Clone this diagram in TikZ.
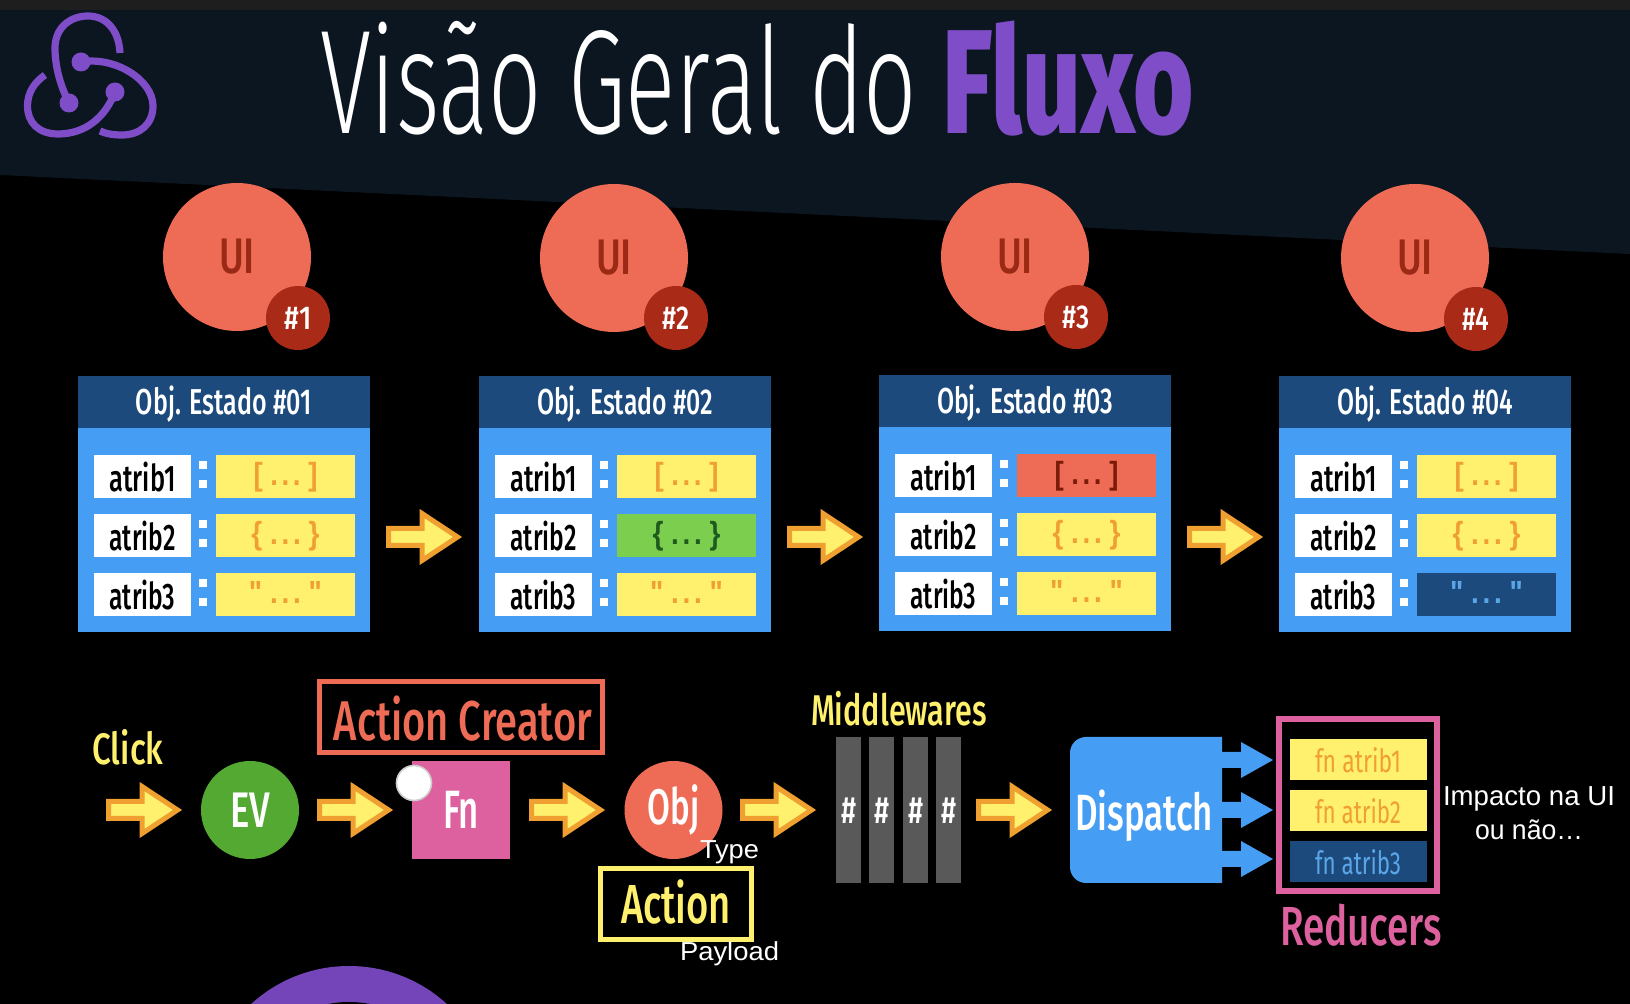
\documentclass[tikz,border=0pt]{standalone}
\usepackage{fontspec}
\usepackage{graphicx}
\setmainfont{Liberation Sans}
\newfontfamily\condf{Fira Sans Light}
\newfontfamily\condb{Fira Sans Medium}
\newfontfamily\condh{Fira Sans}
\newfontfamily\condx{Fira Sans ExtraBold}
\newfontfamily\helv{Liberation Sans}
\definecolor{band}{HTML}{0B1620}
\definecolor{topstrip}{HTML}{1E1E1E}
\definecolor{purp}{HTML}{7F4DC8}
\definecolor{ringp}{HTML}{7445B8}
\definecolor{salmon}{HTML}{EE6C55}
\definecolor{brick}{HTML}{A92B17}
\definecolor{uitext}{HTML}{9A2A15}
\definecolor{navy}{HTML}{1D4A7C}
\definecolor{sky}{HTML}{459DF4}
\definecolor{yel}{HTML}{FFF16E}
\definecolor{org}{HTML}{F0A030}
\definecolor{grn}{HTML}{7CCF4E}
\definecolor{dgrn}{HTML}{1F5A1E}
\definecolor{dred}{HTML}{7A1A08}
\definecolor{evg}{HTML}{54A932}
\definecolor{pink}{HTML}{DD619F}
\definecolor{barg}{HTML}{595959}
\definecolor{lightb}{HTML}{5BA6E8}
% font size in px
\newcommand{\fs}[1]{\fontsize{\fpeval{#1*0.5}}{\fpeval{#1*0.6}}\selectfont}
% #1 font size in px, #2 width in px, #3 text
\newcommand{\wt}[3]{\resizebox{\fpeval{#2*0.5}pt}{\height}{\fs{#1}#3}}
\newcommand{\tdots}{\hspace{.28em}.\hspace{.13em}.\hspace{.13em}.\hspace{.28em}}
\tikzset{
  px/.style={x=0.5pt,y=-0.5pt},
  lbl/.style={inner sep=0pt,outer sep=0pt},
  yarrow/.style={fill=yel,draw=org,line width=2.5pt,line join=miter},
  barrow/.style={fill=sky,draw=none},
  logo/.style={draw=purp,line width=3.6pt,line cap=butt},
}
% #1 name, #2 x tail, #3 y centre: yellow arrow
\newcommand{\yarr}[3]{%
  \coordinate (#1) at (#2,#3);
  \draw[yarrow] ([shift={(2.5,-8.5)}]#1) -- ++(33.5,0) -- ++(0,-15) -- ++(35.5,23.5) -- ++(-35.5,23.5) -- ++(0,-15) -- ++(-33.5,0) -- cycle;}
% UI circle
\newcommand{\uicirc}[6]{%
  \node[circle,fill=salmon,minimum size=74pt,lbl] (#1) at (#2,#3) {\color{uitext}\condb\raisebox{-1pt}{\wt{50}{36}{UI}}};
  \node[circle,fill=brick,minimum size=32pt,lbl] (#1n) at (#4,#5) {\color{white}\condb\wt{33}{27}{#6}};}
% value cell: name,x,y,fill,textcolor,width,text
\newcommand{\valnode}[7]{%
  \node[lbl,fill=#4,minimum width=69.5pt,minimum height=21.5pt,anchor=north west] (#1) at (#2,#3) {};
  \node[lbl,anchor=base,text=#5] at ([yshift=-15.5pt]#1.north) {\helv\bfseries\wt{32}{#6}{#7}};}
% state object: #1 name #2 x #3 y #4 title
\newcommand{\obj}[4]{%
  \coordinate (#1o) at (#2,#3);
  \fill[sky] (#1o) rectangle ++(292,256);
  \fill[navy] (#1o) rectangle ++(292,52);
  \node[lbl,anchor=base,text=white] at ([shift={(146,39)}]#1o) {\condb\wt{36}{176}{Obj. Estado #4}};
  \foreach \n/\dy in {1/79,2/138,3/197}{
    \node[lbl,fill=white,minimum width=48.5pt,minimum height=21.5pt,anchor=north west] (#1r\n) at ([shift={(16,\dy)}]#1o) {};
    \node[lbl,anchor=base] at ([shift={(64.5,\dy+37)}]#1o) {\condb\wt{37}{66}{atrib\n}};
    \fill[white] ([shift={(121,\dy+6)}]#1o) rectangle ++(8,8);
    \fill[white] ([shift={(121,\dy+25)}]#1o) rectangle ++(8,8);
  }}
\begin{document}
\begin{tikzpicture}[px]
\useasboundingbox (0,0) rectangle (1630,1004);
\fill[black] (0,0) rectangle (1630,1004);
\fill[band] (0,10) -- (1630,10) -- (1630,254) -- (0,175) -- cycle;
\fill[topstrip] (0,0) rectangle (1630,10);
% logo
\draw[logo] (69,103) .. controls (60,85) and (55,66) .. (55,48) .. controls (55,28) and (70,16) .. (88,16) .. controls (106,16) and (119,30) .. (120,53);
\draw[logo] (81,62) .. controls (115,56) and (153,80) .. (153,106) .. controls (153,124) and (140,135) .. (122,135) .. controls (114,135) and (106,134) .. (100,131);
\draw[logo] (115,92) .. controls (105,118) and (85,134) .. (58,134) .. controls (38,134) and (27.5,122) .. (27.5,106) .. controls (27.5,92) and (35,82) .. (45,75);
\fill[purp] (81,62) circle (9.5) (115,92) circle (9.5) (69,103) circle (9.5);
% title
\node[lbl,anchor=base west,text=white] (title) at (320,134) {\condf\wt{148}{597}{Visão Geral do}};
\node[lbl,anchor=base west,text=purp] (fluxo) at (942,134) {\condx\wt{148}{252}{Fluxo}};
% UI
\uicirc{u1}{237}{257}{298}{318}{\#1}
\uicirc{u2}{614}{258}{676}{318}{\#2}
\uicirc{u3}{1015}{257}{1076}{317}{\#3}
\uicirc{u4}{1415}{258}{1476}{319}{\#4}
% objects
\obj{a}{78}{376}{\#01}
\valnode{a1}{216}{455}{yel}{org}{64}{[\tdots]}
\valnode{a2}{216}{514}{yel}{org}{68}{\{\tdots\}}
\valnode{a3}{216}{573}{yel}{org}{73}{"\tdots"}
\obj{b}{479}{376}{\#02}
\valnode{b1}{617}{455}{yel}{org}{64}{[\tdots]}
\valnode{b2}{617}{514}{grn}{dgrn}{68}{\{\tdots\}}
\valnode{b3}{617}{573}{yel}{org}{73}{"\tdots"}
\obj{c}{879}{375}{\#03}
\valnode{c1}{1017}{454}{salmon}{dred}{64}{[\tdots]}
\valnode{c2}{1017}{513}{yel}{org}{68}{\{\tdots\}}
\valnode{c3}{1017}{572}{yel}{org}{73}{"\tdots"}
\obj{d}{1279}{376}{\#04}
\valnode{d1}{1417}{455}{yel}{org}{64}{[\tdots]}
\valnode{d2}{1417}{514}{yel}{org}{68}{\{\tdots\}}
\valnode{d3}{1417}{573}{navy}{lightb}{73}{"\tdots"}
\yarr{s1}{386}{537}
\yarr{s2}{787}{537}
\yarr{s3}{1187}{537}
% bottom flow
\node[lbl,anchor=center,text=yel] (click) at (128,747) {\condb\wt{44}{71}{Click}};
\yarr{f1}{106}{810}
\node[circle,fill=evg,minimum size=49pt,lbl] (ev) at (250,810) {\color{white}\condb\wt{50}{40}{EV}};
\yarr{f2}{317}{810}
\node[lbl,fill=pink,minimum width=49pt,minimum height=49pt] (fn) at (461,810) {\color{white}\condb\raisebox{-1.5pt}{\wt{54}{36}{Fn}}};
\node[circle,fill=white,draw=black!20,line width=0.8pt,minimum size=17.5pt,lbl] (dot) at (414,783) {};
\node[draw=salmon,line width=2.5pt,lbl,minimum width=141.7pt,minimum height=35.5pt] (ac) at (461,717) {};
\node[lbl,text=salmon] at (463,719) {\condb\wt{56}{258}{Action Creator}};
\yarr{f3}{529}{810}
\node[circle,fill=salmon,minimum size=49pt,lbl] (ob) at (673.5,810) {\color{white}\condb\raisebox{-1pt}{\wt{50}{52}{Obj}}};
\node[draw=yel,line width=2.5pt,lbl,minimum width=75.5pt,minimum height=35.5pt] (act) at (676,904) {};
\node[lbl,text=yel] at (676,902) {\condb\wt{55}{110}{Action}};
\node[lbl,text=white] (ty) at (729.5,852) {\helv\wt{26}{59}{Type}};
\node[lbl,text=white] (pl) at (729.5,954) {\helv\wt{26}{99}{Payload}};
\yarr{f4}{740}{810}
\node[lbl,text=yel] (mw) at (899,709) {\condb\wt{43}{176}{Middlewares}};
\foreach \x/\n in {836/1,869/2,903/3,936/4}{
  \fill[barg] (\x,737) rectangle ++(24.5,146);
  \node[lbl,text=white] (m\n) at (\x+12.5,811) {\condb\wt{38}{15}{\#}};
}
\yarr{f5}{976}{810}
\fill[sky] (1222,737) -- (1222,883) -- (1086,883) arc[start angle=90,end angle=180,radius=16] -- (1070,753) arc[start angle=180,end angle=270,radius=16] -- cycle;
\node[lbl,text=white] (disp) at (1144,816) {\condb\wt{51}{138}{Dispatch}};
\foreach \y in {760,810,859}{
  \fill[barrow] (1222,\y-8) -- (1241,\y-8) -- (1241,\y-18) -- (1273,\y) -- (1241,\y+18) -- (1241,\y+8) -- (1222,\y+8) -- cycle;
}
\node[draw=pink,line width=3pt,lbl,minimum width=79pt,minimum height=86pt] (red) at (1358,805) {};
\foreach \y/\c/\t/\s in {739/yel/org/1,790/yel/org/2,841/navy/lightb/3}{
  \node[lbl,fill=\c,minimum width=68.5pt,minimum height=20.5pt,anchor=north west] (fn\s) at (1290,\y) {};
  \node[lbl,text=\t] at (1358,\y+21) {\condh\wt{32}{86}{fn atrib\s}};
}
\node[lbl,text=pink] (rt) at (1361,925) {\condb\wt{55}{162}{Reducers}};
\node[lbl,text=white] (imp) at (1529,799) {\helv\wt{27.5}{172}{Impacto na UI}};
\node[lbl,text=white] (ou) at (1529,830) {\helv\wt{27.5}{108}{ou não…}};
% bottom purple ring
\begin{scope}
\clip (0,900) rectangle (1630,1004);
\fill[ringp] (349,1111) circle (145);
\fill[black] (349,1111) circle (109);
\end{scope}
\end{tikzpicture}
\end{document}
